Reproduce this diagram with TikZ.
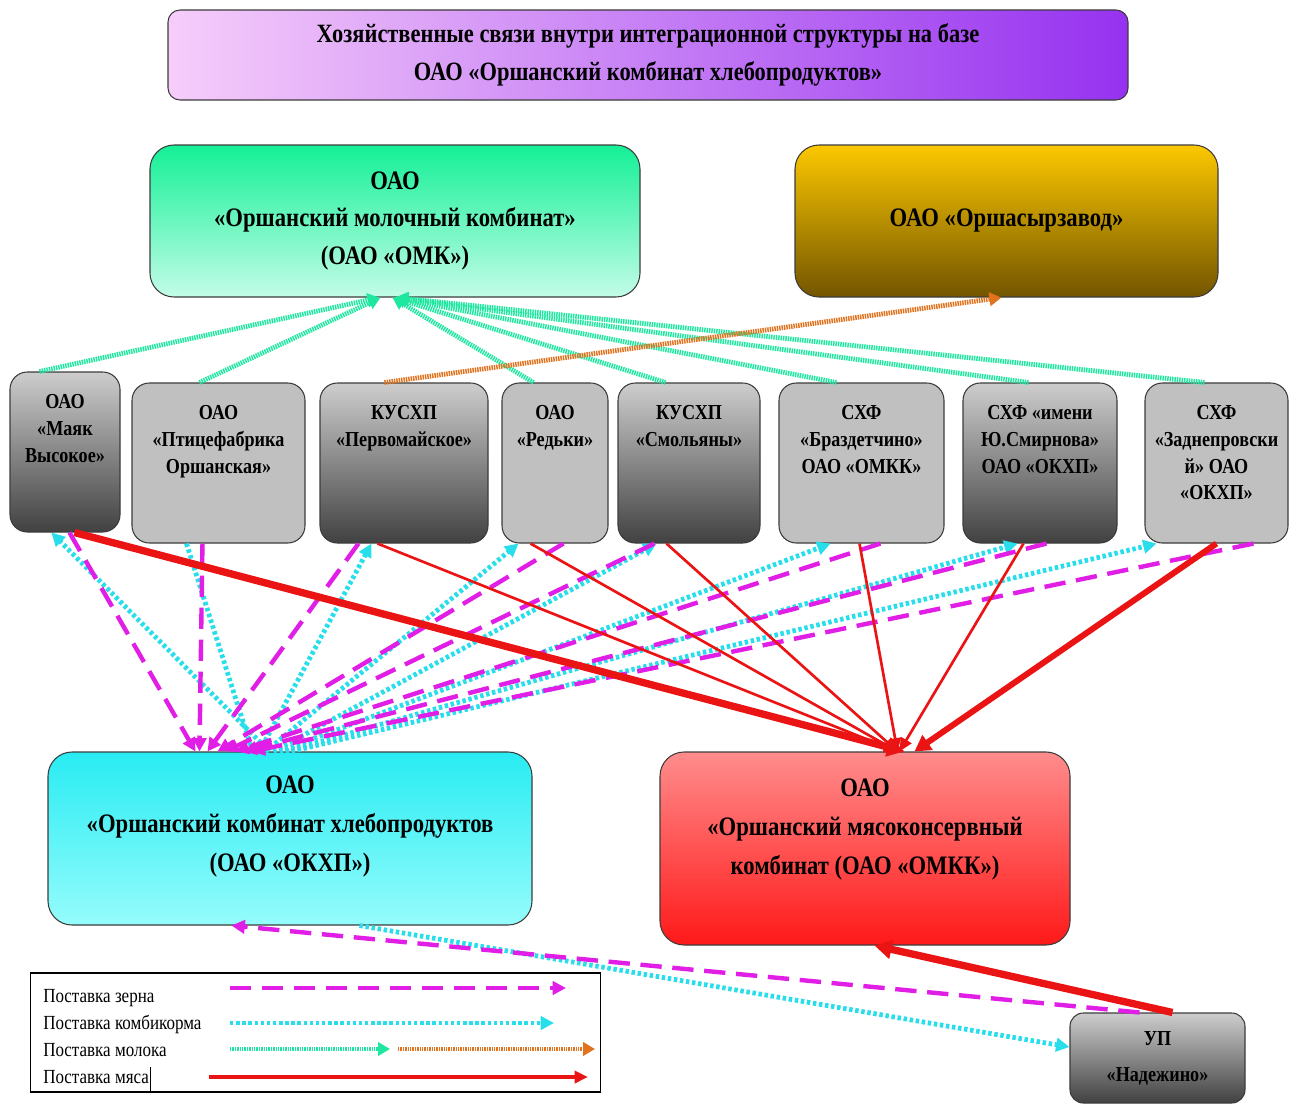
\documentclass[tikz,border=0pt]{standalone}
\usepackage{fontspec}
\setmainfont{Liberation Serif}[FakeStretch=0.85]
\usetikzlibrary{arrows.meta,calc}
\definecolor{bordc}{RGB}{60,60,60}
\definecolor{titleL}{RGB}{246,205,250}
\definecolor{titleR}{RGB}{150,50,240}
\definecolor{omkT}{RGB}{20,240,150}
\definecolor{omkB}{RGB}{195,252,232}
\definecolor{syrT}{RGB}{252,200,0}
\definecolor{syrB}{RGB}{115,85,0}
\definecolor{darkT}{RGB}{205,205,205}
\definecolor{darkB}{RGB}{65,65,65}
\definecolor{lightF}{RGB}{192,192,192}
\definecolor{okT}{RGB}{40,236,242}
\definecolor{okB}{RGB}{150,252,252}
\definecolor{omkkT}{RGB}{255,140,140}
\definecolor{omkkB}{RGB}{255,25,25}
\definecolor{milkc}{RGB}{30,232,160}
\definecolor{orangec}{RGB}{225,115,30}
\definecolor{grainc}{RGB}{225,30,230}
\definecolor{feedc}{RGB}{40,222,235}
\definecolor{meatc}{RGB}{235,20,20}
\begin{document}
\begin{tikzpicture}[x=0.75pt,y=-0.75pt,
  box/.style={draw=bordc, line width=0.8pt, inner sep=0pt},
  bigbox/.style={box, rounded corners=18pt, align=center, font=\fontsize{20}{28}\selectfont\bfseries},
  midbox/.style={box, rounded corners=13pt, minimum height=120pt},
  darkbox/.style={midbox, top color=darkT, bottom color=darkB},
  lightbox/.style={midbox, fill=lightF},
  midtext/.style={anchor=north, align=center, inner sep=0pt, font=\fontsize{16}{20}\selectfont\bfseries},
  legtext/.style={anchor=west, inner sep=0pt, font=\fontsize{15}{16}\selectfont},
  milk/.style={draw=milkc, line width=3.6pt, dash pattern=on 1.1pt off 0.7pt, -{Triangle[length=9pt,width=10pt]}},
  orangeline/.style={milk, draw=orangec},
  grain/.style={draw=grainc, line width=3.3pt, dash pattern=on 16pt off 8pt, -{Triangle[length=10pt,width=10pt]}},
  feed/.style={draw=feedc, line width=3.6pt, dash pattern=on 2.6pt off 2pt, -{Triangle[length=10pt,width=10pt]}},
  feedplain/.style={draw=feedc, line width=3.6pt, dash pattern=on 2.6pt off 2pt},
  meat/.style={draw=meatc, line width=2pt, -{Triangle[length=10pt,width=9pt]}},
  meatthick/.style={draw=meatc, line width=5.5pt, -{Triangle[length=13pt,width=14pt]}},
  meatmid/.style={draw=meatc, line width=4.5pt, -{Triangle[length=12pt,width=13pt]}}
]
\useasboundingbox (0,0) rectangle (1291,1106);

% title
\node[box, rounded corners=9pt, left color=titleL, right color=titleR,
  minimum width=720pt, minimum height=67.5pt, align=center,
  font=\fontsize{19.8}{28}\selectfont\bfseries] (title) at (648,55)
  {Хозяйственные связи внутри интеграционной структуры на базе\\ОАО «Оршанский комбинат хлебопродуктов»};

% top boxes
\node[bigbox, top color=omkT, bottom color=omkB, minimum width=367.5pt, minimum height=114pt] (omk) at (395,221)
  {ОАО\\«Оршанский молочный комбинат»\\(ОАО «ОМК»)};
\node[bigbox, top color=syrT, bottom color=syrB, minimum width=317.25pt, minimum height=114pt] (syr) at (1006.5,221)
  {ОАО «Оршасырзавод»};

% middle row
\node[darkbox, minimum width=82.5pt] (b1) at (65,452) {};
\node[lightbox, minimum width=129.75pt] (b2) at (218.5,463) {};
\node[darkbox, minimum width=126pt] (b3) at (404,463) {};
\node[lightbox, minimum width=79.5pt] (b4) at (555,463) {};
\node[darkbox, minimum width=106.5pt] (b5) at (689,463) {};
\node[lightbox, minimum width=123.75pt] (b6) at (861.5,463) {};
\node[darkbox, minimum width=115.5pt] (b7) at (1040,463) {};
\node[lightbox, minimum width=107.25pt] (b8) at (1216.5,463) {};

\node[midtext] (t1) at ($(b1.north)+(0,23)$) {ОАО\\«Маяк\\Высокое»};
\node[midtext] (t2) at ($(b2.north)+(0,23)$) {ОАО\\«Птицефабрика\\Оршанская»};
\node[midtext] (t3) at ($(b3.north)+(0,23)$) {КУСХП\\«Первомайское»};
\node[midtext] (t4) at ($(b4.north)+(0,23)$) {ОАО\\«Редьки»};
\node[midtext] (t5) at ($(b5.north)+(0,23)$) {КУСХП\\«Смольяны»};
\node[midtext] (t6) at ($(b6.north)+(0,23)$) {СХФ\\«Браздетчино»\\ОАО «ОМКК»};
\node[midtext] (t7) at ($(b7.north)+(0,23)$) {СХФ «имени\\Ю.Смирнова»\\ОАО «ОКХП»};
\node[midtext] (t8) at ($(b8.north)+(0,23)$) {СХФ\\«Заднепровски\\й» ОАО\\«ОКХП»};

% bottom boxes
\node[box, rounded corners=18pt, top color=okT, bottom color=okB, minimum width=363pt, minimum height=129.75pt] (okxp) at (290,838.5) {};
\node[anchor=center, align=center, inner sep=0pt, font=\fontsize{20}{29}\selectfont\bfseries] (okxpt) at ($(okxp.center)+(0,-12)$)
  {ОАО\\«Оршанский комбинат хлебопродуктов\\(ОАО «ОКХП»)};
\node[box, rounded corners=18pt, top color=omkkT, bottom color=omkkB, minimum width=307.5pt, minimum height=144.75pt] (omkk) at (865,848.5) {};
\node[anchor=center, align=center, inner sep=0pt, font=\fontsize{20}{29}\selectfont\bfseries] (omkkt) at ($(omkk.center)+(0,-19)$)
  {ОАО\\«Оршанский мясоконсервный\\комбинат (ОАО «ОМКК»)};

\node[box, rounded corners=10pt, top color=darkT, bottom color=darkB, minimum width=131.25pt, minimum height=67.5pt,
  align=center, font=\fontsize{16}{27}\selectfont\bfseries] (up) at (1157.5,1058) {УП\\«Надежино»};

% milk
\draw[milk] ($(b1.north west)+(30,0)$) -- ($(omk.south west)+(230,0)$);
\draw[milk] ($(b2.north west)+(68,0)$) -- ($(omk.south west)+(231,0)$);
\draw[milk] ($(b4.north west)+(32,0)$) -- ($(omk.south west)+(243,0)$);
\draw[milk] ($(b5.north west)+(48,0)$) -- ($(omk.south west)+(244,0)$);
\draw[milk] ($(b6.north west)+(58,0)$) -- ($(omk.south west)+(245,0)$);
\draw[milk] ($(b7.north west)+(66,0)$) -- ($(omk.south west)+(246,0)$);
\draw[milk] ($(b8.north west)+(60,0)$) -- ($(omk.south west)+(247,0)$);
\draw[orangeline] ($(b3.north west)+(65,0)$) -- ($(syr.south west)+(207,0)$);

% feed
\draw[feed] ($(okxp.north west)+(222,0)$) -- ($(b1.south west)+(42,0)$);
\draw[feedplain] ($(okxp.north west)+(205,0)$) -- ($(b2.south west)+(55,0)$);
\draw[feed] ($(okxp.north west)+(212,0)$) -- ($(b3.south west)+(52,0)$);
\draw[feed] ($(okxp.north west)+(218,0)$) -- ($(b4.south west)+(17,0)$);
\draw[feed] ($(okxp.north west)+(226,0)$) -- ($(b5.south west)+(39,0)$);
\draw[feed] ($(okxp.north west)+(232,0)$) -- ($(b6.south west)+(52,0)$);
\draw[feed] ($(okxp.north west)+(238,0)$) -- ($(b7.south west)+(55,0)$);
\draw[feed] ($(okxp.north west)+(244,0)$) -- ($(b8.south west)+(12,0)$);
\draw[feed] ($(okxp.south west)+(312,0)$) -- ($(up.west)+(0,-11)$);

% grain
\draw[grain] ($(b1.south west)+(60,0)$) -- ($(okxp.north west)+(148,0)$);
\draw[grain] ($(b2.south west)+(71,0)$) -- ($(okxp.north west)+(152,0)$);
\draw[grain] ($(b3.south west)+(39,0)$) -- ($(okxp.north west)+(160,0)$);
\draw[grain] ($(b4.south west)+(62,0)$) -- ($(okxp.north west)+(170,0)$);
\draw[grain] ($(b5.south west)+(37,0)$) -- ($(okxp.north west)+(178,0)$);
\draw[grain] ($(b6.south west)+(102,0)$) -- ($(okxp.north west)+(188,0)$);
\draw[grain] ($(b7.south west)+(84,0)$) -- ($(okxp.north west)+(196,0)$);
\draw[grain] ($(b8.south west)+(109,0)$) -- ($(okxp.north west)+(204,0)$);
\draw[grain] ($(up.north west)+(70,0)$) -- ($(okxp.south west)+(184,0)$);

% meat
\draw[meatthick] ($(b1.south west)+(65,0)$) -- ($(omkk.north west)+(245,0)$);
\draw[meat] ($(b3.south west)+(58,0)$) -- ($(omkk.north west)+(238,0)$);
\draw[meat] ($(b4.south west)+(29,0)$) -- ($(omkk.north west)+(238,0)$);
\draw[meat] ($(b5.south west)+(49,0)$) -- ($(omkk.north west)+(238,0)$);
\draw[meat] ($(b6.south west)+(81,0)$) -- ($(omkk.north west)+(238,0)$);
\draw[meat] ($(b7.south west)+(61,0)$) -- ($(omkk.north west)+(240,0)$);
\draw[meatmid] ($(b8.south west)+(72,0)$) -- ($(omkk.north west)+(255,0)$);
\draw[meatthick] ($(up.north west)+(103,0)$) -- ($(omkk.south west)+(215,0)$);

% legend
\node[draw=black, line width=0.9pt, minimum width=427.5pt, minimum height=89.25pt, inner sep=0pt] (legend) at (315.5,1032.5) {};
\draw[black, line width=0.8pt] ($(legend.south west)+(121,0)$) -- ($(legend.south west)+(121,-26)$);
\node[legtext] (l1) at (43,998) {Поставка зерна};
\node[legtext] (l2) at (43,1024) {Поставка комбикорма};
\node[legtext] (l3) at (43,1050) {Поставка молока};
\node[legtext] (l4) at (43,1077) {Поставка мяса};
\coordinate (g1a) at (230,988);  \coordinate (g1b) at (566,988);
\coordinate (f1a) at (230,1023); \coordinate (f1b) at (554,1023);
\coordinate (m1a) at (230,1049); \coordinate (m1b) at (390,1049);
\coordinate (o1a) at (398,1049); \coordinate (o1b) at (595,1049);
\coordinate (r1a) at (209,1077); \coordinate (r1b) at (588,1077);
\draw[grain] (g1a) -- (g1b);
\draw[feed] (f1a) -- (f1b);
\draw[milk] (m1a) -- (m1b);
\draw[orangeline] (o1a) -- (o1b);
\draw[meat, line width=2.6pt] (r1a) -- (r1b);
\end{tikzpicture}
\end{document}
